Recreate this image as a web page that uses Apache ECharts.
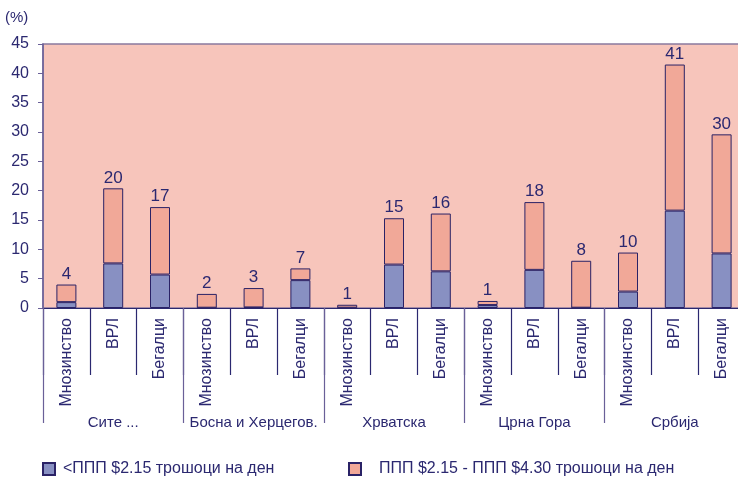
<!DOCTYPE html>
<html><head><meta charset="utf-8">
<script src="https://cdn.jsdelivr.net/npm/echarts@6/dist/echarts.min.js"></script>
<style>html,body{margin:0;padding:0;background:#fff;overflow:hidden}#c{width:738px;height:477px}</style>
</head><body><div id="c"></div>
<script>
const categories = ['Мнозинство','ВРЛ','Бегалци','Мнозинство','ВРЛ','Бегалци','Мнозинство','ВРЛ','Бегалци','Мнозинство','ВРЛ','Бегалци','Мнозинство','ВРЛ','Бегалци'];
const groups = ['Сите ...','Босна и Херцегов.','Хрватска','Црна Гора','Србија'];
const seriesNames = ['<ППП $2.15 трошоци на ден','ППП $2.15 - ППП $4.30 трошоци на ден'];
const below215 = [1.0, 7.6, 5.7, 0.05, 0.1, 4.75, 0.05, 7.4, 6.25, 0.5, 6.5, 0.05, 2.8, 16.6, 9.3];
const between215_430 = [3.0, 12.8, 11.5, 2.35, 3.3, 2.0, 0.5, 7.9, 9.85, 0.7, 11.55, 8.0, 6.65, 24.9, 20.3];
const totalLabels = ['4','20','17','2','3','7','1','15','16','1','18','8','10','41','30'];
const yTicks = {min: 0, max: 45, interval: 5};

const navy = '#2b2870';
const font = '"Liberation Sans", Arial, sans-serif';
const legendBase = {top: 461, padding: 0, itemWidth: 12, itemHeight: 12, icon: 'rect', selectedMode: false};
const chart = echarts.init(document.getElementById('c'));
chart.setOption({
  backgroundColor: '#ffffff',
  animation: false,
  textStyle: {fontFamily: font, color: navy},
  grid: {left: 43, top: 44, width: 702, height: 264, outerBoundsMode: 'none', show: true,
    backgroundColor: '#f7c5bb', borderColor: '#8a7a9e', borderWidth: 1.5, containLabel: false},
  graphic: [{type: 'text', left: 5, top: 10, style: {text: '(%)', fontSize: 15, fontFamily: font, fill: navy}}],
  legend: [
    Object.assign({}, legendBase, {left: 42, data: [seriesNames[0]],
      textStyle: {fontFamily: font, fontSize: 16, color: navy, padding: [0, 0, 0, 3]}}),
    Object.assign({}, legendBase, {left: 348, data: [seriesNames[1]],
      textStyle: {fontFamily: font, fontSize: 16, color: navy, padding: [0, 0, 0, 13]}})
  ],
  xAxis: [{
    type: 'category', data: categories, gridIndex: 0, position: 'bottom',
    axisLine: {show: true, lineStyle: {color: navy, width: 1.2}},
    axisTick: {show: true, interval: 0, length: 67, lineStyle: {color: navy, width: 1.2}},
    axisLabel: {interval: 0, rotate: 90, margin: 10, fontSize: 16, color: navy, fontFamily: font}
  }, {
    type: 'category', data: groups, gridIndex: 0, position: 'bottom',
    axisLine: {show: false},
    axisTick: {show: true, interval: 0, length: 115, lineStyle: {color: '#6a6098', width: 1.2}},
    axisLabel: {interval: 0, margin: 107, fontSize: 15, color: navy, fontFamily: font}
  }],
  yAxis: {
    type: 'value', min: yTicks.min, max: yTicks.max, interval: yTicks.interval,
    axisLine: {show: true, lineStyle: {color: '#6a6098', width: 1.5}},
    axisTick: {show: true, length: 5, lineStyle: {color: '#6a6098'}},
    splitLine: {show: false},
    axisLabel: {fontSize: 16, color: navy, margin: 14, fontFamily: font}
  },
  series: [{
    name: seriesNames[0], type: 'bar', stack: 's', xAxisIndex: 0, barWidth: 20,
    data: below215,
    itemStyle: {color: '#8890c2', borderColor: '#2a2266', borderWidth: 1}
  }, {
    name: seriesNames[1], type: 'bar', stack: 's', xAxisIndex: 0, barWidth: 20,
    data: between215_430,
    itemStyle: {color: '#f1a898', borderColor: '#2a2266', borderWidth: 1},
    label: {show: true, position: 'top', distance: 2, fontSize: 17, color: navy, fontFamily: font,
      formatter: p => totalLabels[p.dataIndex]}
  }]
});
</script></body></html>
